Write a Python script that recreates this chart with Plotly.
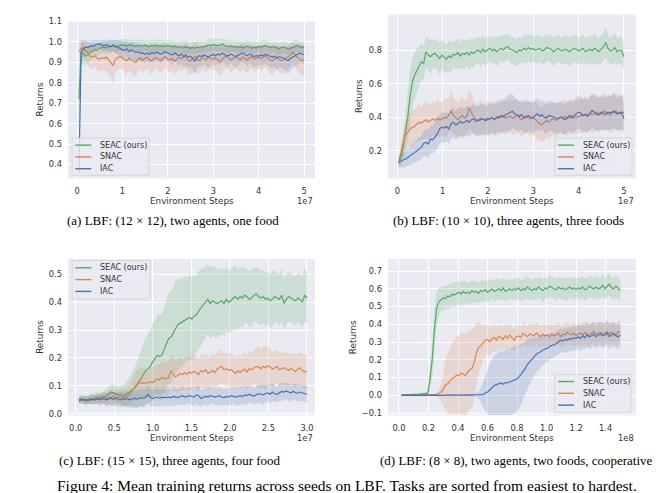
import numpy as np
import plotly.graph_objects as go

W, H = 660, 493

series_names = ["SEAC (ours)", "SNAC", "IAC"]
line_colors = ["#55A868", "#DD8452", "#4C72B0"]
fill_colors = ["rgba(85,168,104,0.2)", "rgba(221,132,82,0.2)", "rgba(76,114,176,0.2)"]

# ---------------- panel (a) ----------------
steps_a = (0.04e7, 5.0e7)
seac_a = [0.72,0.95,0.94,0.93,0.935,0.95,0.955,0.962,0.958,0.968,
0.972,0.975,0.97,0.978,0.976,0.98,0.974,0.979,0.983,0.985,
0.984,0.979,0.982,0.986,0.98,0.977,0.983,0.981,0.978,0.984,
0.98,0.976,0.982,0.979,0.984,0.977,0.981,0.98,0.976,0.983,
0.978,0.975,0.979,0.972,0.977,0.974,0.97,0.976,0.971,0.968,
0.973,0.969,0.975,0.971,0.977,0.974,0.98,0.985,0.982,0.987,
0.984,0.981,0.986,0.99,0.983,0.979,0.976,0.981,0.974,0.978,
0.972,0.976,0.97,0.975,0.979,0.972,0.968,0.974,0.971,0.977,
0.973,0.978,0.981,0.976,0.972,0.978,0.974,0.969,0.966,0.972,
0.975,0.97,0.965,0.968,0.974,0.979,0.982,0.975,0.971,0.977]
seac_a_sd = [0.15,0.06,0.05,0.045,0.04,0.038,0.035,0.034,0.032,0.03,
0.03,0.028,0.032,0.027,0.03,0.026,0.031,0.029,0.027,0.03,
0.028,0.032,0.027,0.03,0.026,0.031,0.029,0.033,0.028,0.03,
0.027,0.031,0.029,0.026,0.03,0.033,0.028,0.03,0.027,0.031,
0.029,0.032,0.028,0.03,0.026,0.031,0.034,0.029,0.03,0.027,
0.031,0.029,0.033,0.028,0.03,0.026,0.029,0.032,0.028,0.03,
0.027,0.031,0.029,0.026,0.03,0.033,0.028,0.03,0.027,0.031,
0.029,0.032,0.028,0.03,0.026,0.031,0.034,0.029,0.03,0.027,
0.031,0.029,0.033,0.028,0.03,0.026,0.029,0.032,0.028,0.03,
0.027,0.031,0.029,0.026,0.03,0.033,0.028,0.03,0.027,0.031]
snac_a = [0.95,0.97,0.968,0.955,0.94,0.93,0.925,0.932,0.92,0.915,
0.922,0.918,0.925,0.912,0.9,0.885,0.915,0.92,0.928,0.922,
0.915,0.908,0.92,0.912,0.902,0.898,0.915,0.922,0.91,0.918,
0.925,0.912,0.906,0.918,0.922,0.915,0.91,0.92,0.928,0.916,
0.912,0.92,0.905,0.915,0.922,0.918,0.925,0.93,0.91,0.905,
0.92,0.928,0.915,0.908,0.922,0.918,0.912,0.925,0.92,0.915,
0.922,0.91,0.902,0.915,0.925,0.93,0.918,0.912,0.922,0.928,
0.92,0.912,0.925,0.918,0.91,0.922,0.928,0.915,0.92,0.926,
0.918,0.925,0.932,0.92,0.912,0.905,0.918,0.922,0.915,0.908,
0.912,0.92,0.925,0.935,0.948,0.94,0.925,0.915,0.908,0.912]
snac_a_sd = [0.05,0.04,0.045,0.05,0.055,0.06,0.058,0.055,0.06,0.062,
0.058,0.06,0.065,0.07,0.075,0.09,0.07,0.06,0.055,0.058,
0.06,0.065,0.058,0.062,0.07,0.066,0.06,0.055,0.062,0.058,
0.055,0.06,0.065,0.058,0.052,0.06,0.064,0.058,0.055,0.06,
0.062,0.058,0.066,0.06,0.055,0.06,0.058,0.062,0.07,0.065,
0.06,0.075,0.07,0.062,0.058,0.06,0.064,0.058,0.06,0.055,
0.058,0.064,0.07,0.062,0.058,0.055,0.06,0.064,0.058,0.055,
0.06,0.062,0.058,0.06,0.066,0.058,0.055,0.062,0.06,0.057,
0.06,0.058,0.055,0.062,0.066,0.07,0.062,0.058,0.06,0.064,
0.066,0.06,0.058,0.055,0.05,0.055,0.062,0.07,0.075,0.068]
iac_a = [0.36,0.95,0.965,0.975,0.972,0.98,0.978,0.985,0.988,0.99,
0.984,0.98,0.986,0.982,0.976,0.985,0.978,0.972,0.968,0.962,
0.958,0.966,0.952,0.96,0.955,0.948,0.952,0.944,0.946,0.94,
0.945,0.938,0.948,0.942,0.95,0.944,0.939,0.946,0.952,0.945,
0.94,0.935,0.946,0.938,0.932,0.94,0.928,0.935,0.925,0.93,
0.918,0.905,0.925,0.932,0.928,0.936,0.93,0.925,0.934,0.938,
0.932,0.94,0.935,0.944,0.938,0.93,0.935,0.94,0.932,0.928,
0.935,0.942,0.945,0.938,0.932,0.94,0.935,0.928,0.932,0.93,
0.936,0.932,0.94,0.935,0.928,0.925,0.93,0.922,0.928,0.925,
0.92,0.915,0.908,0.918,0.925,0.93,0.935,0.945,0.94,0.938]
iac_a_sd = [0.1,0.05,0.04,0.035,0.03,0.028,0.03,0.025,0.022,0.02,
0.025,0.028,0.024,0.03,0.032,0.028,0.03,0.035,0.038,0.04,
0.042,0.038,0.045,0.04,0.042,0.045,0.04,0.044,0.042,0.045,
0.04,0.046,0.042,0.045,0.04,0.043,0.046,0.042,0.04,0.044,
0.045,0.048,0.042,0.046,0.05,0.045,0.052,0.048,0.055,0.05,
0.058,0.065,0.052,0.048,0.05,0.046,0.05,0.052,0.048,0.045,
0.05,0.046,0.048,0.044,0.046,0.05,0.048,0.045,0.05,0.052,
0.048,0.045,0.044,0.048,0.05,0.046,0.048,0.052,0.05,0.048,
0.046,0.05,0.045,0.048,0.052,0.055,0.05,0.058,0.054,0.05,
0.055,0.06,0.065,0.058,0.052,0.05,0.048,0.045,0.046,0.048]

# ---------------- panel (b) ----------------
steps_b = (0.03e7, 5.0e7)
seac_b = [0.13,0.16,0.22,0.3,0.4,0.52,0.61,0.65,0.68,0.7,
0.73,0.72,0.79,0.77,0.76,0.775,0.78,0.765,0.75,0.77,
0.76,0.745,0.765,0.755,0.775,0.77,0.785,0.765,0.78,0.775,
0.785,0.77,0.79,0.78,0.795,0.8,0.785,0.805,0.79,0.8,
0.81,0.795,0.805,0.79,0.8,0.81,0.8,0.815,0.82,0.805,
0.8,0.79,0.785,0.8,0.795,0.81,0.8,0.815,0.805,0.81,
0.8,0.805,0.81,0.795,0.8,0.815,0.81,0.805,0.79,0.8,
0.81,0.8,0.795,0.805,0.8,0.79,0.8,0.81,0.805,0.795,
0.8,0.81,0.79,0.8,0.805,0.795,0.81,0.8,0.79,0.805,
0.82,0.845,0.81,0.795,0.8,0.815,0.79,0.8,0.795,0.76]
seac_b_sd = [0.02,0.05,0.08,0.12,0.15,0.16,0.15,0.14,0.13,0.12,
0.11,0.1,0.09,0.095,0.1,0.09,0.085,0.09,0.095,0.088,
0.09,0.085,0.092,0.088,0.08,0.085,0.09,0.082,0.088,0.085,
0.08,0.088,0.082,0.085,0.078,0.08,0.085,0.08,0.082,0.078,
0.075,0.08,0.078,0.085,0.08,0.076,0.082,0.078,0.075,0.08,
0.082,0.078,0.085,0.08,0.076,0.08,0.085,0.078,0.08,0.082,
0.078,0.085,0.08,0.082,0.086,0.08,0.078,0.082,0.085,0.08,
0.082,0.078,0.08,0.085,0.08,0.088,0.082,0.08,0.085,0.082,
0.08,0.085,0.082,0.078,0.08,0.085,0.09,0.082,0.08,0.085,
0.085,0.09,0.082,0.08,0.085,0.088,0.082,0.08,0.085,0.08]
snac_b = [0.13,0.2,0.25,0.29,0.31,0.33,0.34,0.345,0.36,0.37,
0.365,0.375,0.385,0.37,0.38,0.39,0.38,0.395,0.385,0.39,
0.4,0.395,0.41,0.44,0.41,0.4,0.385,0.4,0.41,0.395,
0.405,0.455,0.43,0.4,0.39,0.38,0.395,0.39,0.385,0.395,
0.39,0.4,0.385,0.395,0.405,0.4,0.41,0.395,0.4,0.405,
0.395,0.4,0.41,0.395,0.385,0.4,0.41,0.395,0.39,0.4,
0.385,0.37,0.36,0.355,0.365,0.38,0.37,0.385,0.39,0.38,
0.39,0.4,0.395,0.405,0.39,0.4,0.41,0.395,0.405,0.4,
0.41,0.405,0.42,0.41,0.425,0.415,0.42,0.43,0.41,0.42,
0.435,0.43,0.42,0.415,0.425,0.44,0.43,0.42,0.425,0.43]
snac_b_sd = [0.02,0.05,0.07,0.08,0.09,0.1,0.11,0.1,0.105,0.11,
0.1,0.105,0.11,0.1,0.095,0.1,0.105,0.11,0.1,0.105,
0.11,0.115,0.1,0.12,0.11,0.105,0.1,0.11,0.115,0.105,
0.1,0.12,0.11,0.1,0.095,0.1,0.105,0.1,0.095,0.1,
0.1,0.095,0.1,0.105,0.1,0.098,0.102,0.1,0.095,0.1,
0.1,0.105,0.1,0.095,0.1,0.105,0.1,0.098,0.1,0.102,
0.105,0.11,0.1,0.105,0.11,0.1,0.105,0.1,0.098,0.1,
0.1,0.095,0.1,0.105,0.1,0.098,0.1,0.105,0.1,0.1,
0.105,0.1,0.11,0.105,0.1,0.115,0.11,0.105,0.11,0.1,
0.11,0.105,0.1,0.11,0.115,0.11,0.105,0.11,0.1,0.105]
iac_b = [0.13,0.14,0.145,0.15,0.16,0.17,0.18,0.19,0.2,0.21,
0.22,0.245,0.25,0.24,0.27,0.265,0.28,0.3,0.33,0.34,
0.335,0.345,0.33,0.36,0.37,0.355,0.36,0.375,0.365,0.37,
0.38,0.37,0.385,0.39,0.375,0.38,0.385,0.39,0.38,0.385,
0.39,0.395,0.385,0.4,0.395,0.41,0.4,0.415,0.42,0.43,
0.435,0.42,0.41,0.405,0.415,0.395,0.4,0.41,0.4,0.395,
0.41,0.42,0.405,0.415,0.4,0.395,0.41,0.405,0.4,0.395,
0.39,0.4,0.395,0.385,0.4,0.41,0.395,0.405,0.42,0.43,
0.425,0.41,0.415,0.405,0.42,0.44,0.43,0.415,0.42,0.43,
0.42,0.415,0.43,0.425,0.435,0.43,0.42,0.425,0.43,0.39]
iac_b_sd = [0.03,0.04,0.045,0.05,0.05,0.055,0.06,0.06,0.065,0.07,
0.07,0.075,0.08,0.08,0.085,0.08,0.085,0.09,0.085,0.09,
0.09,0.085,0.09,0.088,0.09,0.085,0.09,0.088,0.09,0.085,
0.088,0.09,0.085,0.09,0.088,0.085,0.09,0.088,0.085,0.09,
0.09,0.088,0.092,0.09,0.088,0.095,0.09,0.1,0.105,0.11,
0.1,0.095,0.09,0.092,0.088,0.09,0.092,0.09,0.088,0.09,
0.092,0.095,0.09,0.088,0.09,0.092,0.09,0.088,0.09,0.092,
0.09,0.088,0.092,0.09,0.088,0.09,0.092,0.09,0.095,0.1,
0.098,0.095,0.1,0.095,0.1,0.105,0.1,0.098,0.1,0.102,
0.1,0.098,0.105,0.1,0.1,0.102,0.098,0.1,0.1,0.095]

# ---------------- panel (c) ----------------
steps_c = (0.04e7, 3.0e7)
seac_c = [0.05,0.055,0.05,0.045,0.05,0.055,0.052,0.058,0.06,0.055,
0.062,0.06,0.065,0.07,0.078,0.075,0.072,0.068,0.07,0.066,
0.065,0.072,0.08,0.085,0.09,0.1,0.115,0.125,0.14,0.155,
0.16,0.17,0.185,0.2,0.21,0.205,0.21,0.23,0.25,0.27,
0.275,0.29,0.31,0.32,0.325,0.33,0.335,0.34,0.345,0.34,
0.35,0.355,0.37,0.38,0.39,0.4,0.41,0.395,0.405,0.4,
0.395,0.4,0.405,0.395,0.41,0.4,0.405,0.415,0.42,0.41,
0.42,0.415,0.425,0.42,0.41,0.415,0.425,0.43,0.42,0.415,
0.42,0.41,0.415,0.405,0.41,0.42,0.415,0.41,0.425,0.395,
0.41,0.42,0.415,0.41,0.405,0.415,0.41,0.4,0.425,0.415]
seac_c_sd = [0.012,0.015,0.014,0.016,0.015,0.018,0.016,0.018,0.02,0.018,
0.02,0.022,0.025,0.028,0.03,0.03,0.028,0.03,0.032,0.035,
0.04,0.045,0.05,0.06,0.07,0.08,0.09,0.1,0.11,0.12,
0.125,0.13,0.14,0.135,0.145,0.15,0.148,0.155,0.16,0.162,
0.165,0.16,0.168,0.165,0.16,0.158,0.155,0.15,0.152,0.148,
0.145,0.14,0.142,0.138,0.13,0.128,0.125,0.13,0.128,0.125,
0.122,0.12,0.118,0.12,0.115,0.112,0.11,0.115,0.112,0.108,
0.105,0.108,0.1,0.098,0.102,0.1,0.095,0.098,0.1,0.096,
0.095,0.098,0.092,0.095,0.1,0.094,0.09,0.095,0.092,0.09,
0.092,0.088,0.09,0.085,0.09,0.088,0.092,0.09,0.095,0.09]
snac_c = [0.045,0.05,0.048,0.05,0.052,0.05,0.055,0.05,0.052,0.056,
0.054,0.058,0.055,0.06,0.058,0.062,0.06,0.058,0.062,0.06,
0.058,0.062,0.068,0.08,0.095,0.105,0.11,0.112,0.108,0.112,
0.11,0.115,0.112,0.12,0.125,0.122,0.13,0.128,0.125,0.13,
0.155,0.14,0.132,0.138,0.145,0.14,0.148,0.142,0.15,0.145,
0.152,0.148,0.14,0.155,0.15,0.158,0.145,0.15,0.155,0.148,
0.16,0.165,0.17,0.158,0.162,0.155,0.16,0.152,0.145,0.155,
0.148,0.155,0.16,0.15,0.162,0.158,0.165,0.17,0.168,0.162,
0.17,0.165,0.172,0.168,0.16,0.165,0.17,0.158,0.162,0.165,
0.16,0.155,0.162,0.158,0.152,0.16,0.165,0.155,0.15,0.152]
snac_c_sd = [0.01,0.012,0.014,0.015,0.014,0.016,0.018,0.016,0.018,0.02,
0.02,0.022,0.024,0.025,0.028,0.03,0.028,0.026,0.028,0.03,
0.03,0.032,0.035,0.04,0.045,0.05,0.052,0.055,0.05,0.052,
0.05,0.052,0.055,0.05,0.052,0.055,0.058,0.056,0.06,0.058,
0.06,0.058,0.055,0.058,0.06,0.056,0.058,0.06,0.062,0.058,
0.06,0.058,0.056,0.06,0.058,0.062,0.06,0.058,0.06,0.062,
0.06,0.062,0.058,0.06,0.056,0.058,0.06,0.062,0.058,0.06,
0.058,0.06,0.062,0.06,0.065,0.062,0.06,0.068,0.075,0.07,
0.075,0.08,0.07,0.065,0.062,0.06,0.058,0.06,0.062,0.058,
0.06,0.058,0.055,0.058,0.06,0.056,0.058,0.06,0.062,0.06]
iac_c = [0.048,0.05,0.052,0.05,0.048,0.05,0.052,0.05,0.053,0.05,
0.052,0.055,0.05,0.053,0.056,0.052,0.055,0.053,0.05,0.054,
0.052,0.055,0.05,0.053,0.055,0.052,0.056,0.058,0.055,0.06,
0.07,0.058,0.055,0.057,0.06,0.056,0.058,0.06,0.058,0.06,
0.058,0.062,0.06,0.058,0.062,0.065,0.06,0.063,0.065,0.062,
0.06,0.068,0.065,0.055,0.06,0.063,0.06,0.065,0.063,0.06,
0.062,0.065,0.06,0.058,0.062,0.06,0.065,0.063,0.06,0.062,
0.065,0.062,0.068,0.065,0.07,0.066,0.063,0.068,0.072,0.07,
0.068,0.072,0.075,0.07,0.078,0.072,0.07,0.075,0.08,0.078,
0.082,0.078,0.075,0.08,0.076,0.073,0.078,0.075,0.072,0.07]
iac_c_sd = [0.01,0.012,0.014,0.015,0.014,0.016,0.018,0.016,0.018,0.02,
0.02,0.022,0.024,0.022,0.025,0.024,0.026,0.025,0.028,0.026,
0.028,0.026,0.028,0.03,0.028,0.03,0.032,0.03,0.032,0.03,
0.032,0.03,0.028,0.03,0.032,0.03,0.028,0.03,0.032,0.03,
0.03,0.032,0.03,0.028,0.03,0.032,0.03,0.028,0.03,0.032,
0.03,0.032,0.034,0.03,0.028,0.03,0.032,0.03,0.028,0.03,
0.03,0.032,0.03,0.028,0.03,0.032,0.03,0.028,0.03,0.032,
0.032,0.03,0.034,0.032,0.03,0.028,0.03,0.032,0.03,0.034,
0.035,0.032,0.03,0.034,0.032,0.03,0.028,0.03,0.032,0.03,
0.03,0.032,0.03,0.028,0.03,0.032,0.03,0.028,0.03,0.03]

# ---------------- panel (d) ----------------
steps_d = (0.015e8, 1.5e8)
seac_d = [0.002,0.003,0.002,0.004,0.003,0.005,0.004,0.006,0.005,0.007,
0.006,0.008,0.012,0.09,0.2,0.37,0.49,0.525,0.54,0.55,
0.545,0.56,0.555,0.57,0.565,0.575,0.58,0.57,0.585,0.575,
0.58,0.575,0.59,0.58,0.585,0.575,0.59,0.585,0.595,0.58,
0.59,0.6,0.585,0.595,0.6,0.59,0.605,0.585,0.595,0.6,
0.59,0.6,0.595,0.605,0.59,0.6,0.595,0.61,0.6,0.59,
0.6,0.595,0.61,0.6,0.59,0.605,0.6,0.615,0.605,0.6,
0.595,0.61,0.6,0.605,0.595,0.6,0.61,0.6,0.605,0.595,
0.605,0.6,0.61,0.595,0.6,0.615,0.605,0.6,0.61,0.6,
0.605,0.62,0.6,0.61,0.625,0.605,0.6,0.615,0.6,0.59]
seac_d_sd = [0.003,0.004,0.003,0.004,0.005,0.004,0.005,0.006,0.005,0.006,
0.006,0.008,0.012,0.06,0.1,0.12,0.1,0.08,0.07,0.065,
0.065,0.07,0.068,0.065,0.07,0.066,0.064,0.068,0.065,0.062,
0.06,0.062,0.065,0.06,0.058,0.062,0.06,0.058,0.06,0.062,
0.06,0.058,0.062,0.06,0.058,0.06,0.062,0.058,0.06,0.058,
0.06,0.058,0.062,0.06,0.058,0.06,0.058,0.062,0.06,0.058,
0.06,0.062,0.058,0.06,0.064,0.06,0.058,0.062,0.06,0.058,
0.062,0.06,0.058,0.062,0.06,0.064,0.06,0.058,0.062,0.06,
0.058,0.062,0.06,0.064,0.06,0.058,0.062,0.06,0.064,0.062,
0.06,0.065,0.062,0.06,0.064,0.062,0.06,0.065,0.062,0.06]
snac_d = [0.0,0.001,0.0,0.002,0.001,0.0,0.002,0.001,0.002,0.001,
0.002,0.001,0.003,0.002,0.004,0.003,0.006,0.01,0.018,0.035,
0.06,0.065,0.08,0.095,0.1,0.115,0.11,0.125,0.12,0.11,
0.13,0.145,0.15,0.185,0.24,0.27,0.28,0.295,0.31,0.315,
0.3,0.32,0.325,0.31,0.33,0.325,0.315,0.335,0.32,0.34,
0.325,0.31,0.33,0.335,0.325,0.35,0.34,0.33,0.345,0.34,
0.335,0.35,0.34,0.33,0.345,0.335,0.34,0.33,0.345,0.335,
0.34,0.35,0.33,0.345,0.34,0.355,0.345,0.34,0.35,0.335,
0.345,0.35,0.34,0.355,0.345,0.34,0.35,0.36,0.345,0.35,
0.355,0.345,0.35,0.36,0.345,0.355,0.35,0.34,0.36,0.355]
snac_d_sd = [0.002,0.002,0.002,0.003,0.002,0.002,0.003,0.002,0.003,0.002,
0.003,0.003,0.004,0.004,0.005,0.006,0.01,0.02,0.05,0.09,
0.14,0.17,0.19,0.2,0.21,0.22,0.22,0.23,0.23,0.23,
0.23,0.22,0.22,0.2,0.17,0.14,0.12,0.1,0.09,0.085,
0.08,0.078,0.075,0.072,0.07,0.068,0.07,0.066,0.068,0.065,
0.064,0.062,0.065,0.06,0.062,0.064,0.06,0.062,0.065,0.06,
0.062,0.06,0.064,0.062,0.06,0.065,0.062,0.06,0.064,0.062,
0.06,0.064,0.062,0.06,0.065,0.062,0.06,0.064,0.062,0.06,
0.064,0.062,0.06,0.065,0.062,0.064,0.06,0.062,0.065,0.062,
0.06,0.064,0.062,0.065,0.06,0.062,0.064,0.06,0.062,0.065]
iac_d = [0.0,0.001,0.0,0.001,0.0,0.001,0.0,0.001,0.0,0.001,
0.0,0.001,0.0,0.001,0.001,0.0,0.001,0.0,0.001,0.0,
0.001,0.0,0.001,0.002,0.001,0.0,0.001,0.002,0.001,0.002,
0.001,0.002,0.001,0.003,0.002,0.003,0.004,0.006,0.01,0.018,
0.03,0.042,0.055,0.06,0.065,0.07,0.062,0.072,0.07,0.075,
0.08,0.085,0.09,0.1,0.115,0.135,0.15,0.175,0.19,0.2,
0.22,0.23,0.24,0.245,0.255,0.26,0.265,0.275,0.28,0.285,
0.29,0.3,0.31,0.305,0.315,0.31,0.32,0.315,0.325,0.32,
0.33,0.32,0.335,0.325,0.34,0.33,0.335,0.345,0.33,0.34,
0.345,0.335,0.34,0.35,0.33,0.34,0.345,0.335,0.33,0.34]
iac_d_sd = [0.002,0.002,0.002,0.002,0.002,0.002,0.002,0.002,0.002,0.002,
0.002,0.002,0.002,0.002,0.002,0.002,0.002,0.002,0.002,0.002,
0.002,0.002,0.002,0.003,0.002,0.002,0.003,0.003,0.002,0.003,
0.003,0.004,0.005,0.008,0.01,0.02,0.04,0.07,0.1,0.13,
0.15,0.16,0.17,0.17,0.18,0.18,0.18,0.185,0.19,0.19,
0.19,0.19,0.185,0.18,0.17,0.16,0.15,0.14,0.13,0.12,
0.11,0.1,0.095,0.09,0.085,0.08,0.078,0.075,0.072,0.07,
0.07,0.068,0.07,0.066,0.068,0.07,0.066,0.068,0.07,0.068,
0.066,0.07,0.068,0.066,0.07,0.068,0.07,0.066,0.068,0.07,
0.068,0.07,0.066,0.068,0.07,0.066,0.068,0.07,0.068,0.066]

# ---------------- tick labels ----------------
xtick_a = [0, 1, 2, 3, 4, 5]
xtick_a_text = ["0", "1", "2", "3", "4", "5"]
ytick_a = [0.4, 0.5, 0.6, 0.7, 0.8, 0.9, 1.0, 1.1]
ytick_a_text = ["0.4", "0.5", "0.6", "0.7", "0.8", "0.9", "1.0", "1.1"]
xtick_b = [0, 1, 2, 3, 4, 5]
xtick_b_text = ["0", "1", "2", "3", "4", "5"]
ytick_b = [0.2, 0.4, 0.6, 0.8]
ytick_b_text = ["0.2", "0.4", "0.6", "0.8"]
xtick_c = [0.0, 0.5, 1.0, 1.5, 2.0, 2.5, 3.0]
xtick_c_text = ["0.0", "0.5", "1.0", "1.5", "2.0", "2.5", "3.0"]
ytick_c = [0.0, 0.1, 0.2, 0.3, 0.4, 0.5]
ytick_c_text = ["0.0", "0.1", "0.2", "0.3", "0.4", "0.5"]
xtick_d = [0.0, 0.2, 0.4, 0.6, 0.8, 1.0, 1.2, 1.4]
xtick_d_text = ["0.0", "0.2", "0.4", "0.6", "0.8", "1.0", "1.2", "1.4"]
ytick_d = [-0.1, 0.0, 0.1, 0.2, 0.3, 0.4, 0.5, 0.6, 0.7]
ytick_d_text = ["\u22120.1", "0.0", "0.1", "0.2", "0.3", "0.4", "0.5", "0.6", "0.7"]

captions = ["(a) LBF: (12 \u00d7 12), two agents, one food",
            "(b) LBF: (10 \u00d7 10), three agents, three foods",
            "(c) LBF: (15 \u00d7 15), three agents, four food",
            "(d) LBF: (8 \u00d7 8), two agents, two foods, cooperative"]
figure_caption = "Figure 4: Mean training returns across seeds on LBF. Tasks are sorted from easiest to hardest."
x_title = "Environment Steps"
y_title = "Returns"
exponents = ["1e7", "1e7", "1e7", "1e8"]

# ---------------- build ----------------
def px(p):
    return p / W


def py(p):
    return 1 - p / H


panels = [
    dict(steps=steps_a, scale=1e7, means=[seac_a, snac_a, iac_a], sds=[seac_a_sd, snac_a_sd, iac_a_sd],
         box=(60, 307, 8.5, 168), xr=(-0.2, 5.24), yr=(0.333, 1.1),
         xt=(xtick_a, xtick_a_text), yt=(ytick_a, ytick_a_text),
         leg=(64, 141, 127, 165), ytx=31.7, cap=(165, 211)),
    dict(steps=steps_b, scale=1e7, means=[seac_b, snac_b, iac_b], sds=[seac_b_sd, snac_b_sd, iac_b_sd],
         box=(380, 628, 1.5, 168), xr=(-0.205, 5.266), yr=(0.036, 1.012),
         xt=(xtick_b, xtick_b_text), yt=(ytick_b, ytick_b_text),
         leg=(546.7, 624, 127, 165), ytx=351.7, cap=(500, 211)),
    dict(steps=steps_c, scale=1e7, means=[seac_c, snac_c, iac_c], sds=[seac_c_sd, snac_c_sd, iac_c_sd],
         box=(60, 307, 250, 409), xr=(-0.1, 3.104), yr=(-0.0056, 0.555),
         xt=(xtick_c, xtick_c_text), yt=(ytick_c, ytick_c_text),
         leg=(64, 142, 251.7, 290.7), ytx=31.7, cap=(161.5, 455)),
    dict(steps=steps_d, scale=1e8, means=[seac_d, snac_d, iac_d], sds=[seac_d_sd, snac_d_sd, iac_d_sd],
         box=(380, 628, 250, 409), xr=(-0.0745, 1.606), yr=(-0.113, 0.768),
         xt=(xtick_d, xtick_d_text), yt=(ytick_d, ytick_d_text),
         leg=(546.7, 623, 367.3, 406.3), ytx=345, cap=(508, 455)),
]

fig = go.Figure()
layout = dict()
annotations = []
shapes = []
tick_font = dict(family="DejaVu Sans", size=8.3, color="#333333")
label_font = dict(family="DejaVu Sans", size=8.8, color="#333333")
cap_font = dict(family="Liberation Serif", size=13, color="#000000")
figcap_font = dict(family="Liberation Serif", size=15.5, color="#000000")

for k, p in enumerate(panels):
    sfx = "" if k == 0 else str(k + 1)
    xa, ya = "x" + sfx, "y" + sfx
    sc = p["scale"]
    for j in range(3):
        m = np.asarray(p["means"][j], dtype=float)
        s = np.asarray(p["sds"][j], dtype=float)
        x = np.linspace(p["steps"][0], p["steps"][1], len(m))
        n = min(len(m), len(s))
        xb = x[:n]
        hi = m[:n] + s[:n]
        lo = m[:n] - s[:n]
        fig.add_trace(go.Scatter(x=np.concatenate([xb, xb[::-1]]), y=np.concatenate([hi, lo[::-1]]),
                                 fill="toself", fillcolor=fill_colors[j], mode="lines",
                                 line=dict(width=0, color=fill_colors[j]), hoverinfo="skip",
                                 showlegend=False, xaxis=xa, yaxis=ya))
        fig.add_trace(go.Scatter(x=x, y=m, mode="lines", name=series_names[j],
                                 line=dict(color=line_colors[j], width=1.2),
                                 showlegend=False, xaxis=xa, yaxis=ya))
    x0, x1, y0, y1 = p["box"]
    layout["xaxis" + sfx] = dict(domain=[px(x0), px(x1)], range=[p["xr"][0] * sc, p["xr"][1] * sc],
                                 tickvals=[v * sc for v in p["xt"][0]], ticktext=p["xt"][1],
                                 showgrid=True, gridcolor="white", gridwidth=1, zeroline=False,
                                 showline=False, ticks="", tickfont=tick_font, anchor=ya,
                                 ticklabelstandoff=6)
    layout["yaxis" + sfx] = dict(domain=[py(y1), py(y0)], range=list(p["yr"]),
                                 tickvals=p["yt"][0], ticktext=p["yt"][1],
                                 showgrid=True, gridcolor="white", gridwidth=1, zeroline=False,
                                 showline=False, ticks="", tickfont=tick_font, anchor=xa,
                                 ticklabelstandoff=5)
    # axis titles
    annotations.append(dict(text=x_title, x=px((x0 + x1) / 2), y=py(y1 + 23), xref="paper", yref="paper",
                            xanchor="center", yanchor="middle", showarrow=False, font=label_font))
    annotations.append(dict(text=y_title, x=px(p["ytx"]), y=py((y0 + y1) / 2), xref="paper", yref="paper",
                            xanchor="center", yanchor="middle", textangle=-90, showarrow=False, font=label_font))
    annotations.append(dict(text=exponents[k], x=px(x1), y=py(y1 + 23), xref="paper", yref="paper",
                            xanchor="right", yanchor="middle", showarrow=False, font=tick_font))
    # caption
    annotations.append(dict(text=captions[k], x=px(p["cap"][0]), y=py(p["cap"][1]), xref="paper", yref="paper",
                            xanchor="center", yanchor="middle", showarrow=False, font=cap_font))
    # legend
    lx0, lx1, ly0, ly1 = p["leg"]
    shapes.append(dict(type="rect", xref="paper", yref="paper", x0=px(lx0), x1=px(lx1), y0=py(ly1), y1=py(ly0),
                       fillcolor="rgba(234,234,242,0.8)", line=dict(color="#D0D0D0", width=0.8), layer="above"))
    for j in range(3):
        ey = ly0 + 7.3 + 12 * j
        shapes.append(dict(type="line", xref="paper", yref="paper", x0=px(lx0 + 3.3), x1=px(lx0 + 19.3),
                           y0=py(ey), y1=py(ey), line=dict(color=line_colors[j], width=1.4), layer="above"))
        annotations.append(dict(text=series_names[j], x=px(lx0 + 26), y=py(ey), xref="paper", yref="paper",
                                xanchor="left", yanchor="middle", showarrow=False,
                                font=dict(family="DejaVu Sans", size=8, color="#333333")))

annotations.append(dict(text=figure_caption, x=px(339), y=py(480), xref="paper", yref="paper",
                        xanchor="center", yanchor="middle", showarrow=False, font=figcap_font))

fig.update_layout(width=W, height=H, margin=dict(l=0, r=0, t=0, b=0),
                  paper_bgcolor="white", plot_bgcolor="#EAEAF2",
                  showlegend=False, annotations=annotations, shapes=shapes, **layout)

fig.write_html("out.html")
